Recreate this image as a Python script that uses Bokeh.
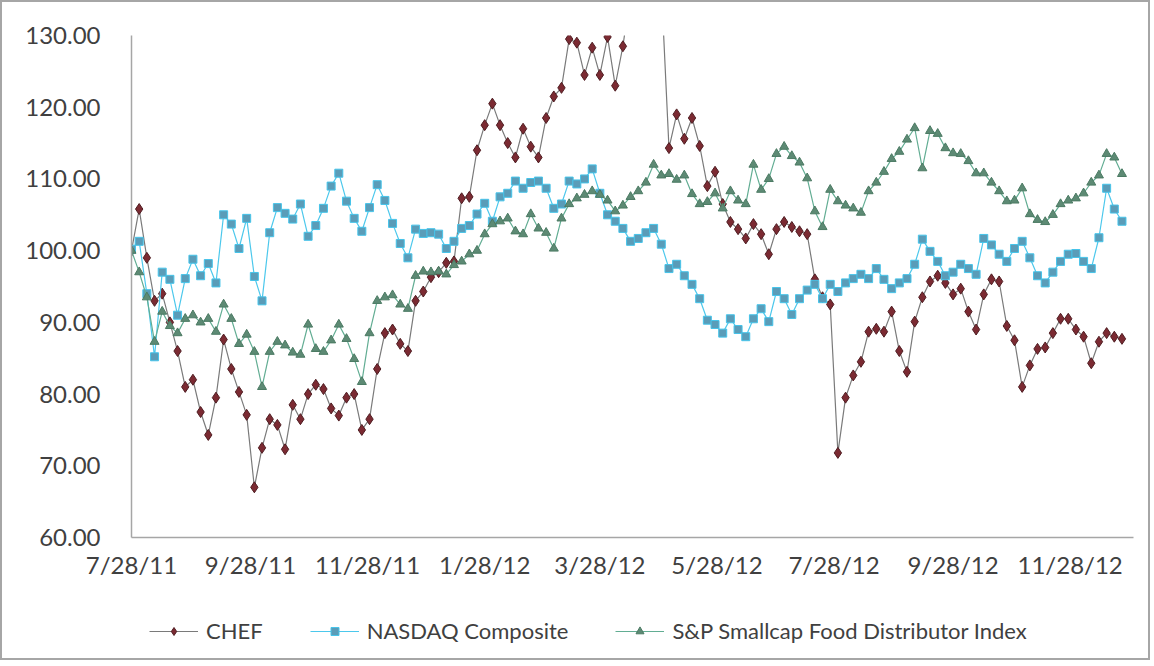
import pandas as pd
from bokeh.plotting import figure
from bokeh.layouts import column
from bokeh.models import (Legend, LegendItem, FixedTicker, CustomJSTickFormatter,
                          NumeralTickFormatter, Range1d)
from bokeh.embed import file_html
from bokeh.resources import INLINE

# ---------------- data ----------------
start_date = "2011-07-28"
end_date = "2012-12-31"
step_days = 4

chef = [
    100, 105.8, 99, 93, 94, 90, 86, 81, 82, 77.5,
    74.3, 79.5, 87.6, 83.5, 80.3, 77.1, 67.0, 72.5, 76.5, 75.7,
    72.3, 78.5, 76.5, 80, 81.3, 80.7, 78, 77, 79.5, 80,
    75, 76.5, 83.5, 88.5, 89, 87, 86, 93, 94.3, 96.3,
    97, 98.3, 98.5, 107.3, 107.5, 114, 117.5, 120.5, 117.5, 115,
    113, 117, 114.5, 113, 118.5, 121.5, 122.7, 129.5, 129, 124.5,
    128.3, 124.5, 129.8, 123, 128.5, 136, 138, 137, 140, 137,
    114.3, 119, 115.6, 118.5, 114.6, 109, 111, 106.5, 104, 103,
    101.7, 103.7, 102.3, 99.5, 103, 104, 103.3, 102.7, 102.3, 96,
    93.5, 92.5, 71.8, 79.5, 82.6, 84.5, 88.7, 89.1, 88.7, 91.5,
    86, 83.1, 90.1, 93.5, 95.7, 96.5, 95.5, 93.9, 94.7, 91.5,
    89, 93.9, 96, 95.7, 89.5, 87.5, 81, 84, 86.3, 86.5,
    88.5, 90.5, 90.5, 89, 88, 84.3, 87.3, 88.5, 88, 87.7,
]

nasdaq = [
    100.2, 101.3, 94, 85.2, 97, 96, 91, 96.1, 98.8, 96.5,
    98.2, 95.5, 105, 103.7, 100.3, 104.5, 96.4, 93, 102.5, 106,
    105.2, 104.4, 106.5, 102, 103.5, 105.9, 109, 110.8, 106.9, 104.5,
    102.7, 106, 109.2, 107, 103.8, 101, 99, 103, 102.4, 102.5,
    102.3, 100.3, 101.3, 103.1, 103.5, 105.1, 106.6, 104.1, 107.5, 108,
    109.7, 108.7, 109.5, 109.7, 108.7, 105.9, 106.5, 109.7, 109.3, 110,
    111.4, 108, 105, 104.1, 103.1, 101.3, 101.7, 102.5, 103.1, 100.9,
    97.5, 98.1, 96.5, 95.3, 93.3, 90.3, 89.7, 88.5, 90.5, 89,
    88, 90.5, 91.9, 90.1, 94.3, 93.3, 91.1, 93.3, 94.5, 95.3,
    93.3, 95.3, 94.3, 95.5, 96.1, 96.7, 96.1, 97.5, 96, 94.7,
    95.5, 96.1, 98.1, 101.6, 99.9, 98.5, 96.5, 97, 98.1, 97.5,
    96.7, 101.7, 100.8, 99.5, 98.5, 100.3, 101.3, 99, 96.5, 95.5,
    97, 98.5, 99.5, 99.6, 98.5, 97.5, 101.8, 108.7, 105.8, 104.1,
]

sp_food = [
    100, 97, 93.5, 87.3, 91.5, 89.5, 88.5, 90.5, 91, 90,
    90.5, 88.7, 92.5, 90.5, 87, 88.3, 85.9, 81, 85.9, 87.3,
    86.8, 85.8, 85.5, 89.7, 86.3, 85.9, 87.5, 89.7, 87.7, 84.9,
    81.7, 88.5, 93, 93.5, 93.8, 92.5, 91.9, 96.5, 97.1, 97,
    97.1, 96.7, 98, 98.5, 99.5, 100, 102.3, 103.7, 104.1, 104.5,
    102.7, 102.3, 105.1, 103.1, 102.5, 100.3, 104.5, 106.5, 107.3, 107.8,
    108.3, 107.8, 107, 105.5, 106.3, 107.5, 108.3, 109.5, 112, 110.5,
    110.7, 109.9, 110.5, 107.9, 106.5, 106.8, 108, 105.9, 108.3, 107,
    106.5, 112, 108.5, 110, 113.5, 114.5, 113.2, 112.3, 110.1, 105.5,
    103.3, 108.5, 106.9, 106.3, 105.9, 105.3, 108.3, 109.5, 111, 112.8,
    113.8, 115.5, 117.1, 111.5, 116.7, 116.3, 114.3, 113.6, 113.5, 112.5,
    110.8, 110.8, 109.5, 108.3, 106.9, 107, 108.7, 105.1, 104.3, 104,
    105, 106.5, 107, 107.3, 108, 109.5, 110.5, 113.5, 113, 110.7,
]

series_names = ["CHEF", "NASDAQ Composite", "S&P Smallcap Food Distributor Index"]
tick_dates = ["2011-07-28", "2011-09-28", "2011-11-28", "2012-01-28", "2012-03-28",
              "2012-05-28", "2012-07-28", "2012-09-28", "2012-11-28"]
y_ticks = [60, 70, 80, 90, 100, 110, 120, 130]

# ---------------- chart figure ----------------
dates = pd.date_range(start_date, periods=len(chef), freq=f"{step_days}D")
border = "#a6a6a6"

p = figure(width=1150, height=590, x_axis_type="datetime",
           output_backend="svg", toolbar_location=None,
           x_range=Range1d(pd.Timestamp(start_date), pd.Timestamp(end_date)),
           y_range=Range1d(y_ticks[0], y_ticks[-1]),
           min_border_left=129, min_border_right=19,
           min_border_top=33, min_border_bottom=55)
p.styles = {"border-style": "solid solid none solid", "border-width": "2px",
            "border-color": border}
p.outline_line_color = None
p.background_fill_color = "white"
p.border_fill_color = "white"
p.xgrid.visible = False
p.ygrid.visible = False

font = "Lato"
txt_color = "#404040"

p.yaxis.ticker = FixedTicker(ticks=y_ticks)
p.yaxis.formatter = NumeralTickFormatter(format="0.00")
p.xaxis.ticker = FixedTicker(ticks=[pd.Timestamp(d).value // 10**6 for d in tick_dates])
p.xaxis.formatter = CustomJSTickFormatter(code="""
const d = new Date(tick);
return (d.getUTCMonth() + 1) + "/" + d.getUTCDate() + "/" + String(d.getUTCFullYear()).slice(2);
""")
for ax in (p.xaxis[0], p.yaxis[0]):
    ax.axis_line_color = border
    ax.axis_line_width = 1.5
    ax.major_tick_line_color = None
    ax.minor_tick_line_color = None
    ax.major_tick_out = 0
    ax.major_tick_in = 0
    ax.major_label_text_font = font
    ax.major_label_text_font_size = "24px"
    ax.major_label_text_color = txt_color
p.yaxis.major_label_standoff = 31
p.xaxis.major_label_standoff = 12

styles = [
    dict(vals=chef, line="#7a7a7a", marker="diamond", fill="#7b2a32", mline="#4f1d22", size=11),
    dict(vals=nasdaq, line="#4cc8ec", marker="square", fill="#5a9cb8", mline="#46c4ea", size=8),
    dict(vals=sp_food, line="#62ad93", marker="triangle", fill="#5d8a74", mline="#4b7a63", size=9),
]

for st in styles:
    p.line(dates, st["vals"], line_color=st["line"], line_width=1.2)
    p.scatter(dates, st["vals"], marker=st["marker"], size=st["size"],
              fill_color=st["fill"], line_color=st["mline"], line_width=1)

# ---------------- legend strip ----------------
# Same series drawn again here only to feed the legend; its y-range keeps them
# outside the visible strip.
q = figure(width=1150, height=70, x_axis_type="datetime",
           output_backend="svg", toolbar_location=None,
           x_range=p.x_range, y_range=Range1d(0, 1),
           x_axis_location=None, y_axis_location=None,
           min_border_left=0, min_border_right=0, min_border_top=0, min_border_bottom=0)
q.styles = {"border-style": "none solid solid solid", "border-width": "2px",
            "border-color": border}
q.outline_line_color = None
q.xgrid.visible = False
q.ygrid.visible = False
q.border_fill_color = "white"

items = []
for name, st in zip(series_names, styles):
    lr = q.line(dates, st["vals"], line_color=st["line"], line_width=1.2)
    sr = q.scatter(dates, st["vals"], marker=st["marker"], size=st["size"],
                   fill_color=st["fill"], line_color=st["mline"], line_width=1)
    items.append(LegendItem(label=name, renderers=[lr, sr]))

legend = Legend(items=items, location=(18, 16), orientation="horizontal",
                padding=0, margin=0, spacing=47, glyph_width=49, glyph_height=20,
                label_standoff=8, label_text_font=font, label_text_font_size="22px",
                label_text_color=txt_color, border_line_color=None,
                background_fill_alpha=0)
q.add_layout(legend)

layout = column(p, q, spacing=0)
open("out.html", "w").write(file_html(layout, INLINE))
